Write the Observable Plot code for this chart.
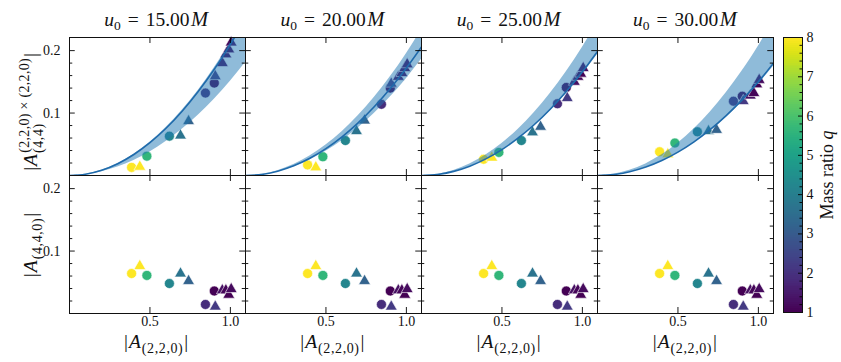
<!DOCTYPE html>
<html><head><meta charset="utf-8">
<script src="https://cdn.jsdelivr.net/npm/d3@7"></script>
<script src="https://cdn.jsdelivr.net/npm/@observablehq/plot@0.6"></script>
<style>
 html,body{margin:0;padding:0;background:#fff;}
 #wrap{position:relative;width:841px;height:362px;overflow:hidden;}
 #wrap svg{position:absolute;top:0;}
</style></head><body><div id="wrap"></div>
<script>
// ---------- data ----------
const u0Values = [15, 20, 25, 30];
const panelRows = ["top", "bottom"];
const simShape = ["circle","triangle","circle","circle","triangle","triangle","circle","triangle","circle","triangle","triangle","triangle","triangle"];
const simQ     = [8, 8, 5.6, 4.2, 3.7, 3.2, 1.9, 2.2, 1.0, 1.3, 1.1, 1.0, 1.2];
const simA220  = [0.386, 0.437, 0.481, 0.621, 0.690, 0.740, 0.845, 0.906, 0.900, 0.950, 0.972, 0.990, 1.005];
const simA440  = [0.064, 0.076, 0.061, 0.048, 0.064, 0.052, 0.0145, 0.011, 0.036, 0.037, 0.037, 0.030, 0.039];
const quadU15  = [0.013, 0.014, 0.031, 0.063, 0.064, 0.087, 0.132, 0.159, 0.148, 0.180, 0.194, 0.202, 0.213];
const quadU20  = [0.017, 0.013, 0.030, 0.056, 0.071, 0.088, 0.114, 0.147, 0.140, 0.158, 0.164, 0.172, 0.178];
const quadU25  = [0.026, 0.0285, 0.037, 0.056, 0.069, 0.078, 0.115, 0.124, 0.141, 0.150, 0.158, 0.163, 0.172];
const quadU30  = [0.038, 0.034, 0.052, 0.070, 0.071, 0.073, 0.119, 0.119, 0.127, 0.128, 0.132, 0.146, 0.153];

// fitted curve and band, read at these |A220| values
const fitA220 = [0, 0.1, 0.2, 0.3, 0.4, 0.5, 0.6, 0.7, 0.8, 0.9, 1.0, 1.1];
const fitMidU15 = [0, 0.0021, 0.0084, 0.0189, 0.0336, 0.0525, 0.0756, 0.1029, 0.1344, 0.1701, 0.210, 0.254];
const fitLoU15  = [0, 0.0015, 0.0060, 0.0136, 0.0242, 0.0378, 0.0544, 0.0740, 0.0966, 0.1223, 0.151, 0.183];
const fitHiU15  = [0, 0.0021, 0.0085, 0.0192, 0.0341, 0.0533, 0.0767, 0.1044, 0.1363, 0.1725, 0.213, 0.258];
const fitMidU20 = [0, 0.0017, 0.0069, 0.0155, 0.0275, 0.0430, 0.0619, 0.0843, 0.1101, 0.1393, 0.172, 0.208];
const fitLoU20  = [0, 0.0016, 0.0062, 0.0140, 0.0248, 0.0388, 0.0558, 0.0760, 0.0992, 0.1256, 0.155, 0.188];
const fitHiU20  = [0, 0.0020, 0.0078, 0.0176, 0.0312, 0.0488, 0.0702, 0.0956, 0.1248, 0.1580, 0.195, 0.236];
const fitMidU25 = [0, 0.0017, 0.0066, 0.0149, 0.0266, 0.0415, 0.0598, 0.0813, 0.1062, 0.1345, 0.166, 0.201];
const fitLoU25  = [0, 0.0016, 0.0065, 0.0146, 0.0259, 0.0405, 0.0583, 0.0794, 0.1037, 0.1312, 0.162, 0.196];
const fitHiU25  = [0, 0.0021, 0.0082, 0.0185, 0.0328, 0.0513, 0.0738, 0.1005, 0.1312, 0.1661, 0.205, 0.248];
const fitMidU30 = [0, 0.0015, 0.0060, 0.0135, 0.0240, 0.0375, 0.0540, 0.0735, 0.0960, 0.1215, 0.150, 0.182];
const fitLoU30  = [0, 0.0015, 0.0058, 0.0131, 0.0234, 0.0365, 0.0526, 0.0715, 0.0934, 0.1183, 0.146, 0.177];
const fitHiU30  = [0, 0.0021, 0.0083, 0.0186, 0.0331, 0.0518, 0.0745, 0.1014, 0.1325, 0.1677, 0.207, 0.251];

// ticks
const xMajorTicks = [0.5, 1.0];
const yMajorTicks = [0.1, 0.2];
const yMinorTicks = [0.02, 0.04, 0.06, 0.08, 0.12, 0.14, 0.16, 0.18];
const qTicks = [1, 2, 3, 4, 5, 6, 7, 8];
const qMinorTicks = [1.2,1.4,1.6,1.8,2.2,2.4,2.6,2.8,3.2,3.4,3.6,3.8,4.2,4.4,4.6,4.8,5.2,5.4,5.6,5.8,6.2,6.4,6.6,6.8,7.2,7.4,7.6,7.8];
const qRange = [1, 8];

// ---------- tables ----------
const quadByU0 = [quadU15, quadU20, quadU25, quadU30];
const fitMid = [fitMidU15, fitMidU20, fitMidU25, fitMidU30];
const fitLo = [fitLoU15, fitLoU20, fitLoU25, fitLoU30];
const fitHi = [fitHiU15, fitHiU20, fitHiU25, fitHiU30];

const points = [];
u0Values.forEach((u0, i) => {
  simA220.forEach((x, j) => {
    points.push({u0, row: "top", x, y: quadByU0[i][j], q: simQ[j], shape: simShape[j]});
    points.push({u0, row: "bottom", x, y: simA440[j], q: simQ[j], shape: simShape[j]});
  });
});
const fits = [];
u0Values.forEach((u0, i) => {
  fitA220.forEach((x, k) => fits.push({u0, row: "top", x, lo: fitLo[i][k], mid: fitMid[i][k], hi: fitHi[i][k]}));
});

// ---------- layout ----------
const W = 780, H = 362, ML = 68, MR = 7, MT = 37, MB = 49;
const fw = (W - ML - MR) / u0Values.length;
const fh = (H - MT - MB) / panelRows.length;
const FONT = "'Liberation Serif', 'Times New Roman', serif";
const tickStyle = {stroke: "#000", strokeWidth: 0.9};

const main = Plot.plot({
  width: W, height: H,
  marginLeft: ML, marginRight: MR, marginTop: MT, marginBottom: MB,
  style: {fontFamily: FONT, fontSize: "14px", color: "#111", background: "transparent", overflow: "visible"},
  fx: {domain: u0Values, padding: 0, axis: null},
  fy: {domain: panelRows, padding: 0, axis: null},
  x: {domain: [0, 1.094], ticks: xMajorTicks, tickSize: 0, tickPadding: 3, tickFormat: d3.format(".1f"), label: null},
  y: {domain: [0, 0.221], ticks: yMajorTicks, tickSize: 0, tickPadding: 9, tickFormat: d3.format(".1f"), label: null},
  color: {type: "linear", scheme: "viridis", domain: qRange},
  marks: [
    Plot.dot(points.filter(d => d.shape === "circle"), {x: "x", y: "y", fx: "u0", fy: "row", fill: "q", symbol: "circle", r: 5, stroke: "white", strokeWidth: 0.6}),
    Plot.dot(points.filter(d => d.shape === "triangle"), {x: "x", y: "y", fx: "u0", fy: "row", fill: "q", symbol: "triangle", r: 4.4, stroke: "white", strokeWidth: 0.6}),
    Plot.areaY(fits, {x: "x", y1: "lo", y2: "hi", fx: "u0", fy: "row", fill: "#1f77b4", fillOpacity: 0.5, curve: "natural", clip: true}),
    Plot.line(fits, {x: "x", y: "mid", fx: "u0", fy: "row", stroke: "#1f6aab", strokeWidth: 1.6, curve: "natural", clip: true}),
    Plot.tickY(yMajorTicks, {y: d => d, insetRight: fw - 6, ...tickStyle}),
    Plot.tickY(yMajorTicks, {y: d => d, insetLeft: fw - 6, ...tickStyle}),
    Plot.tickY(yMinorTicks, {y: d => d, insetRight: fw - 3.5, ...tickStyle}),
    Plot.tickY(yMinorTicks, {y: d => d, insetLeft: fw - 3.5, ...tickStyle}),
    Plot.tickX(xMajorTicks, {x: d => d, insetTop: fh - 6, ...tickStyle}),
    Plot.tickX(xMajorTicks, {x: d => d, insetBottom: fh - 6, ...tickStyle}),
    Plot.frame({stroke: "#111", strokeWidth: 1})
  ]
});
main.style.left = "0px";
const wrap = document.getElementById("wrap");
wrap.appendChild(main);

// ---------- colorbar ----------
const barW = 19;
const qStep = 0.05;
const qSteps = d3.range(qRange[0], qRange[1], qStep);
const cbar = Plot.plot({
  width: 71, height: H,
  marginLeft: 13, marginRight: 71 - 13 - barW, marginTop: MT, marginBottom: 50,
  style: {fontFamily: FONT, fontSize: "14px", color: "#111", background: "transparent", overflow: "visible"},
  x: {domain: [0, 1], axis: null},
  y: {domain: qRange, axis: "right", ticks: qTicks, tickSize: 0, tickPadding: 4, tickFormat: d3.format("d"), label: null},
  color: {type: "linear", scheme: "viridis", domain: qRange},
  marks: [
    Plot.rect(qSteps, {x1: 0, x2: 1, y1: d => d, y2: d => Math.min(d + qStep * 1.5, qRange[1]), fill: d => d + qStep / 2, shapeRendering: "crispEdges"}),
    Plot.tickY(qTicks, {y: d => d, insetLeft: barW - 4, ...tickStyle}),
    Plot.tickY(qMinorTicks, {y: d => d, insetLeft: barW - 2.5, ...tickStyle}),
    Plot.frame({stroke: "#111", strokeWidth: 1})
  ]
});
cbar.style.left = "770px";
wrap.appendChild(cbar);

// make sure every Plot text (tick labels) uses the serif face
d3.select(main).selectAll("text").style("font-family", FONT);
d3.select(cbar).selectAll("text").style("font-family", FONT);

// ---------- math-like text labels (single text elements with tspans) ----------
const svg = d3.select(main);

function mathText(sel, x, y, rotate) {
  return sel.append("text")
    .attr("transform", `translate(${x},${y})` + (rotate ? " rotate(-90)" : ""))
    .attr("text-anchor", "middle")
    .attr("fill", "#111")
    .style("font-family", FONT)
    .style("font-size", "19.5px");
}

// titles
u0Values.forEach((u, i) => {
  const t = mathText(svg, ML + fw * (i + 0.5), 26, false);
  t.append("tspan").style("font-style", "italic").text("u");
  t.append("tspan").attr("dy", 4).style("font-size", "13.5px").text("0");
  t.append("tspan").attr("dy", -4).attr("dx", 7).text("=");
  t.append("tspan").attr("dx", 7).text(u.toFixed(2));
  t.append("tspan").attr("dx", 1.5).style("font-style", "italic").style("font-size", "20.5px").text("M");
});

// top-row y label: |A^{(2,2,0)x(2,2,0)}_{(4,4)}|
{
  const t = mathText(svg, 37, 112, true);
  t.append("tspan").text("|");
  t.append("tspan").attr("dx", 1).style("font-style", "italic").text("A");
  t.append("tspan").attr("dx", 1).attr("dy", 6).style("font-size", "14px").style("letter-spacing", "0.6px").text("(4,4)");
  t.append("tspan").attr("dx", -29.5).attr("dy", -14).style("font-size", "14px").style("letter-spacing", "0.3px").text("(2,2,0) × (2,2,0)");
  t.append("tspan").attr("dx", 1).attr("dy", 8).text("|");
}
// bottom-row y label: |A_{(4,4,0)}|
{
  const t = mathText(svg, 37, 245, true);
  t.append("tspan").text("|");
  t.append("tspan").attr("dx", 1).style("font-style", "italic").text("A");
  t.append("tspan").attr("dx", 1).attr("dy", 5).style("font-size", "14px").style("letter-spacing", "0.6px").text("(4,4,0)");
  t.append("tspan").attr("dx", 1).attr("dy", -5).text("|");
}
// x labels: |A_{(2,2,0)}|
u0Values.forEach((u, i) => {
  const t = mathText(svg, ML + fw * (i + 0.5), 348, false);
  t.append("tspan").text("|");
  t.append("tspan").attr("dx", 1).style("font-style", "italic").text("A");
  t.append("tspan").attr("dx", 1).attr("dy", 5).style("font-size", "14px").style("letter-spacing", "0.6px").text("(2,2,0)");
  t.append("tspan").attr("dx", 1).attr("dy", -5).text("|");
});

// colorbar label
{
  const t = d3.select(cbar).append("text").attr("fill", "#111")
    .attr("text-anchor", "middle").style("font-family", FONT).style("font-size", "18px")
    .attr("transform", "translate(62.5,175) rotate(-90)");
  t.append("tspan").text("Mass ratio ");
  t.append("tspan").style("font-style", "italic").text("q");
}
</script></body></html>
